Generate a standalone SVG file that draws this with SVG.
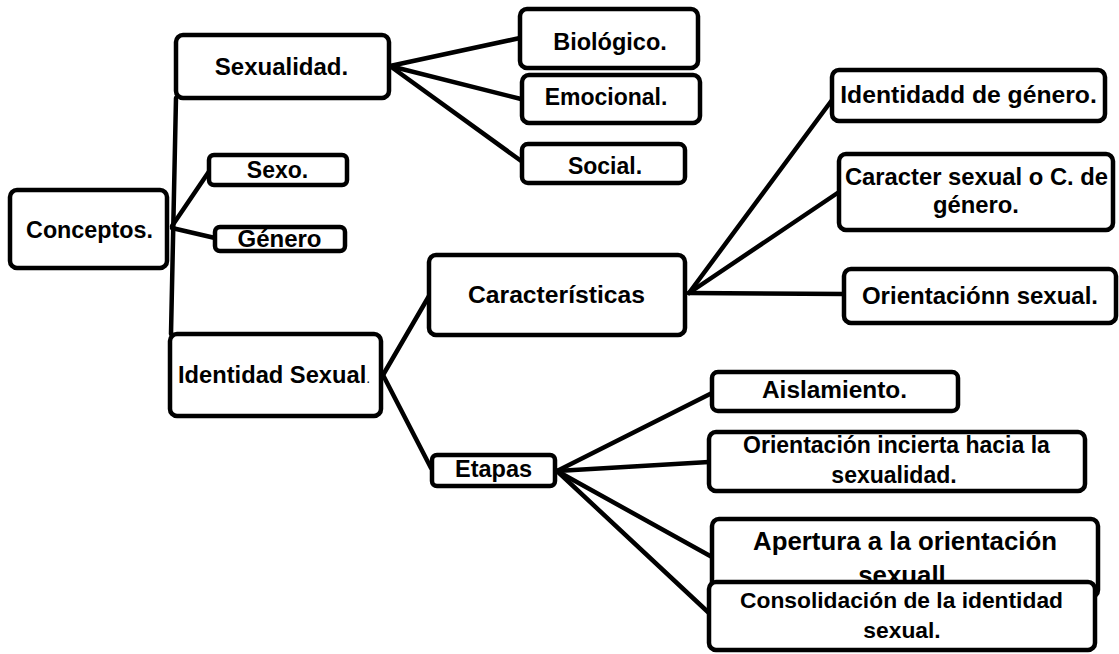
<svg xmlns="http://www.w3.org/2000/svg" width="1119" height="654" viewBox="0 0 1119 654">
<style>
.box{fill:#fff;stroke:#000;stroke-width:4.5}
.ln{fill:none;stroke:#000;stroke-width:4.5;stroke-linecap:round;stroke-linejoin:round}
text{font-family:"Liberation Sans",Arial,sans-serif;font-weight:700;fill:#000;text-anchor:middle}
</style>
<rect width="1119" height="654" fill="#fff"/>
<g id="connectors">
<path class="ln" d="M176,98 L171,334"/>
<path class="ln" d="M172,226 L210,170"/>
<path class="ln" d="M172,228 L215,238"/>
<path class="ln" d="M390,66 L520,38"/>
<path class="ln" d="M390,66 L521,99"/>
<path class="ln" d="M390,66 L524,163"/>
<path class="ln" d="M383,375 L429,296"/>
<path class="ln" d="M383,375 L431,468"/>
<path class="ln" d="M689,293 L832,100"/>
<path class="ln" d="M689,293 L839,192"/>
<path class="ln" d="M689,293 L844,294"/>
<path class="ln" d="M557,471 L712,393"/>
<path class="ln" d="M557,471 L709,462"/>
<path class="ln" d="M557,471 L712,557"/>
<path class="ln" d="M557,471 L709,613"/>
</g>
<g id="n-conceptos"><rect class="box" x="10" y="190" width="157" height="78" rx="7"/><text x="89.5" y="238" font-size="23.3">Conceptos.</text></g>
<g id="n-sexualidad"><rect class="box" x="176" y="35" width="213" height="63" rx="7"/><text x="281.5" y="75" font-size="24">Sexualidad.</text></g>
<g id="n-sexo"><rect class="box" x="209" y="155" width="138" height="30" rx="5"/><text x="277.5" y="178" font-size="23">Sexo.</text></g>
<g id="n-genero"><rect class="box" x="215" y="227" width="130" height="24" rx="5"/><text x="279.5" y="247" font-size="24">Género</text></g>
<g id="n-biologico"><rect class="box" x="520" y="9" width="178" height="59" rx="7"/><text x="610" y="50" font-size="23.5">Biológico.</text></g>
<g id="n-emocional"><rect class="box" x="522" y="75" width="178" height="48" rx="7"/><text x="606" y="105" font-size="23">Emocional.</text></g>
<g id="n-social"><rect class="box" x="522" y="144" width="163" height="39" rx="6"/><text x="605" y="174" font-size="23">Social.</text></g>
<g id="n-identidad-sexual"><rect class="box" x="170" y="334" width="211" height="82" rx="7"/><text x="178" y="383" font-size="23.7" style="text-anchor:start">Identidad Sexual<tspan font-size="14" font-weight="400">.</tspan></text></g>
<g id="n-caracteristicas"><rect class="box" x="429" y="255" width="256" height="80" rx="7"/><text x="556.5" y="303" font-size="24.7">Características</text></g>
<g id="n-identidadd"><rect class="box" x="832" y="70" width="273" height="51" rx="7"/><text x="968.5" y="103" font-size="24.7">Identidadd de género.</text></g>
<g id="n-caracter"><rect class="box" x="839" y="154" width="274" height="76" rx="7"/><text x="976.5" y="185" font-size="23.8">Caracter sexual o C. de</text><text x="976" y="213" font-size="23.8">género.</text></g>
<g id="n-orientacionn"><rect class="box" x="844" y="269" width="272" height="54" rx="7"/><text x="980" y="304" font-size="24">Orientaciónn sexual.</text></g>
<g id="n-etapas"><rect class="box" x="432" y="455" width="123" height="31" rx="5"/><text x="493.5" y="477" font-size="23.5">Etapas</text></g>
<g id="n-aislamiento"><rect class="box" x="712" y="372" width="246" height="39" rx="6"/><text x="834.5" y="398" font-size="24.4">Aislamiento.</text></g>
<g id="n-orientacion-incierta"><rect class="box" x="709" y="432" width="376" height="59" rx="7"/><text x="896.5" y="453" font-size="23">Orientación incierta hacia la</text><text x="894" y="483" font-size="23">sexualidad.</text></g>
<g id="n-apertura"><rect class="box" x="712" y="519" width="386" height="78" rx="7"/><text x="905" y="550" font-size="25.8">Apertura a la orientación</text><text x="902" y="584" font-size="25.8">sexuall</text></g>
<g id="n-consolidacion"><rect class="box" x="709" y="582" width="386" height="68" rx="7"/><text x="901.5" y="608" font-size="22.8">Consolidación de la identidad</text><text x="902" y="638" font-size="22.8">sexual.</text></g>
</svg>
